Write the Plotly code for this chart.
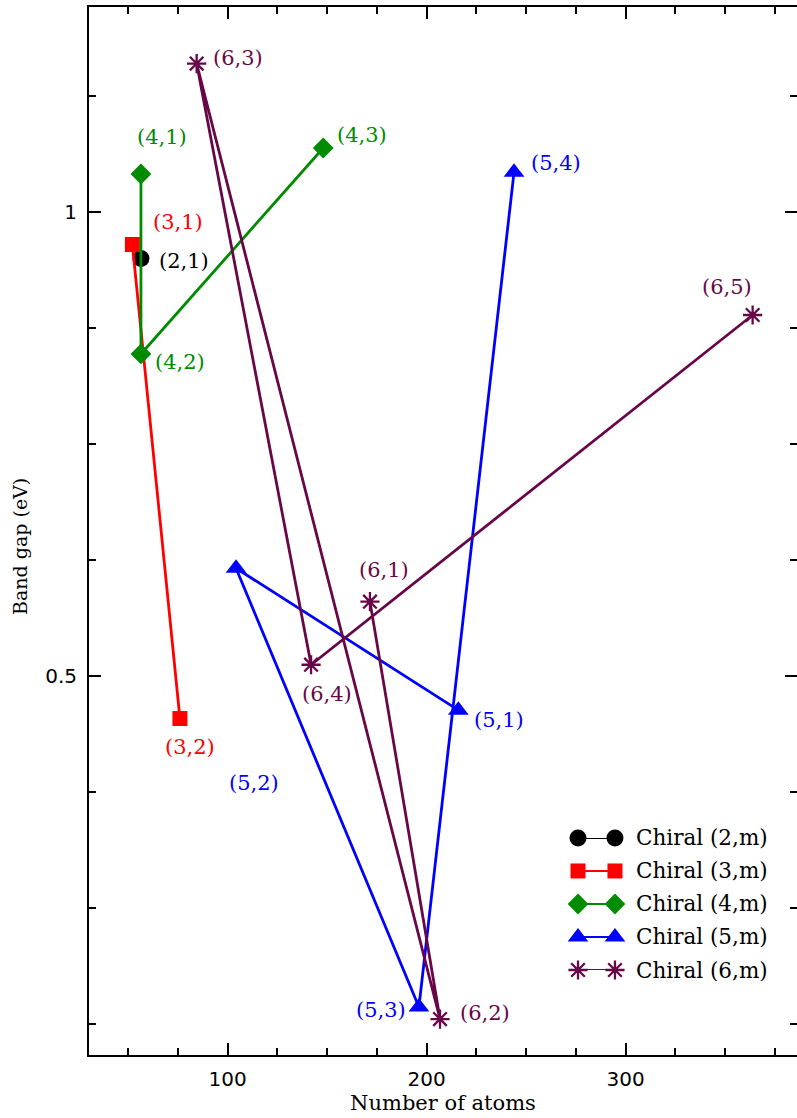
import plotly.graph_objects as go

# ---- data ----
labels_2 = ["(2,1)"]
atoms_2 = [56.4]
gap_2 = [0.950]

labels_3 = ["(3,1)", "(3,2)"]
atoms_3 = [52.1, 76.0]
gap_3 = [0.965, 0.454]

labels_4 = ["(4,1)", "(4,2)", "(4,3)"]
atoms_4 = [56.4, 56.4, 148.0]
gap_4 = [1.041, 0.847, 1.069]

labels_5 = ["(5,1)", "(5,2)", "(5,3)", "(5,4)"]
atoms_5 = [215.9, 104.2, 196.1, 243.9]
gap_5 = [0.463, 0.616, 0.143, 1.043]

labels_6 = ["(6,1)", "(6,2)", "(6,3)", "(6,4)", "(6,5)"]
atoms_6 = [171.5, 206.7, 84.4, 141.9, 363.8]
gap_6 = [0.580, 0.130, 1.160, 0.512, 0.889]

legend_names = ["Chiral (2,m)", "Chiral (3,m)", "Chiral (4,m)", "Chiral (5,m)", "Chiral (6,m)"]

# ---- styles ----
BLACK = "rgb(0,0,0)"
RED = "rgb(255,0,0)"
GREEN = "rgb(0,139,0)"
BLUE = "rgb(0,0,255)"
MAROON = "rgb(103,7,72)"
SERIF = "DejaVu Serif"
SANS = "DejaVu Sans"

series = [
    (atoms_2, gap_2, labels_2, BLACK, dict(symbol="circle", size=17)),
    (atoms_3, gap_3, labels_3, RED, dict(symbol="square", size=15)),
    (atoms_4, gap_4, labels_4, GREEN, dict(symbol="diamond", size=16)),
    (atoms_5, gap_5, labels_5, BLUE, dict(symbol="triangle-up", size=18)),
    (atoms_6, gap_6, labels_6, MAROON, dict(symbol="asterisk-open", size=16)),
]

# label offsets (pixels) relative to each point: (xshift, yshift)
offsets = {
    "(2,1)": (43, -3), "(3,1)": (46, 22), "(3,2)": (10, -28),
    "(4,1)": (21, 37), "(4,2)": (39, -8), "(4,3)": (39, 13),
    "(5,1)": (41, -10), "(5,2)": (18, -215), "(5,3)": (-38, -3), "(5,4)": (42, 9),
    "(6,1)": (14, 32), "(6,2)": (45, 6), "(6,3)": (41, 6), "(6,4)": (16, -29), "(6,5)": (-26, 28),
}

fig = go.Figure()
annotations = []
for (xs, ys, labs, col, mk), name in zip(series, legend_names):
    m = dict(mk, color=col)
    if mk["symbol"] == "asterisk-open":
        m["line"] = dict(color=col, width=2.3)
    fig.add_trace(go.Scatter(
        x=xs, y=ys, mode="lines+markers", name=name,
        line=dict(color=col, width=2.8), marker=m,
        showlegend=False, cliponaxis=False,
    ))
    for x, y, t in zip(xs, ys, labs):
        dx, dy = offsets[t]
        annotations.append(dict(
            x=x, y=y, xref="x", yref="y", text=t, showarrow=False,
            xshift=dx, yshift=dy, font=dict(family=SERIF, size=21, color=col),
            xanchor="center", yanchor="middle",
        ))

# ---- custom legend (two markers joined by a line) ----
for i, ((xs, ys, labs, col, mk), name) in enumerate(zip(series, legend_names)):
    m = dict(mk, color=col)
    if mk["symbol"] == "asterisk-open":
        m["line"] = dict(color=col, width=2.3)
    fig.add_trace(go.Scatter(
        x=[0, 1], y=[i, i], xaxis="x2", yaxis="y2", mode="lines+markers",
        line=dict(color=col, width=2), marker=m, showlegend=False,
        cliponaxis=False, hoverinfo="skip",
    ))
    annotations.append(dict(
        x=1, y=i, xref="x2", yref="y2", text=name, showarrow=False,
        xanchor="left", yanchor="middle", xshift=19,
        font=dict(family=SERIF, size=21.5, color=BLACK),
    ))

# empty trace so the right-hand tick axis (ticks only, no frame line) is drawn
fig.add_trace(go.Scatter(x=[], y=[], xaxis="x", yaxis="y3", showlegend=False, hoverinfo="skip"))

# y-axis title placed as annotation to match reference position
annotations.append(dict(
    x=-0.0975, y=0.4857, xref="paper", yref="paper", text="Band gap (eV)",
    showarrow=False, textangle=-90, xanchor="center", yanchor="middle",
    font=dict(family=SERIF, size=19, color=BLACK),
))

tick_common = dict(ticks="inside", ticklen=12, tickwidth=2, tickcolor=BLACK)
yminor = dict(dtick=0.125, tick0=0, ticks="inside", ticklen=7, tickwidth=2, tickcolor=BLACK, showgrid=False)
YRANGE = [0.0913, 1.221]

fig.update_layout(
    width=797, height=1118,
    margin=dict(l=89, r=0, t=7, b=63),
    paper_bgcolor="white", plot_bgcolor="white",
    showlegend=False,
    xaxis=dict(
        tick_common, showgrid=False, zeroline=False, showline=True, linecolor=BLACK, linewidth=2,
        mirror="ticks", range=[30.3, 386.1], dtick=100, tick0=0,
        tickfont=dict(family=SANS, size=20, color=BLACK),
        minor=dict(dtick=25, tick0=0, ticks="inside", ticklen=7, tickwidth=2, tickcolor=BLACK, showgrid=False),
        title=dict(text="Number of atoms", font=dict(family=SERIF, size=21, color=BLACK), standoff=3),
        ticklabelstandoff=5,
    ),
    yaxis=dict(
        tick_common, showgrid=False, zeroline=False, showline=True, linecolor=BLACK, linewidth=2,
        mirror=False, range=YRANGE, dtick=0.5, tick0=0,
        tickfont=dict(family=SANS, size=20, color=BLACK),
        minor=yminor, ticklabelstandoff=6,
    ),
    yaxis3=dict(
        tick_common, overlaying="y", side="right", anchor="x", range=YRANGE,
        dtick=0.5, tick0=0, showgrid=False, zeroline=False, showline=False,
        showticklabels=False, minor=yminor,
    ),
    xaxis2=dict(domain=[0.6907, 0.7429], range=[0, 1], visible=False, anchor="y2"),
    yaxis2=dict(domain=[0.0811, 0.2071], range=[4, 0], visible=False, anchor="x2"),
    annotations=annotations,
)

fig.write_html("out.html")
